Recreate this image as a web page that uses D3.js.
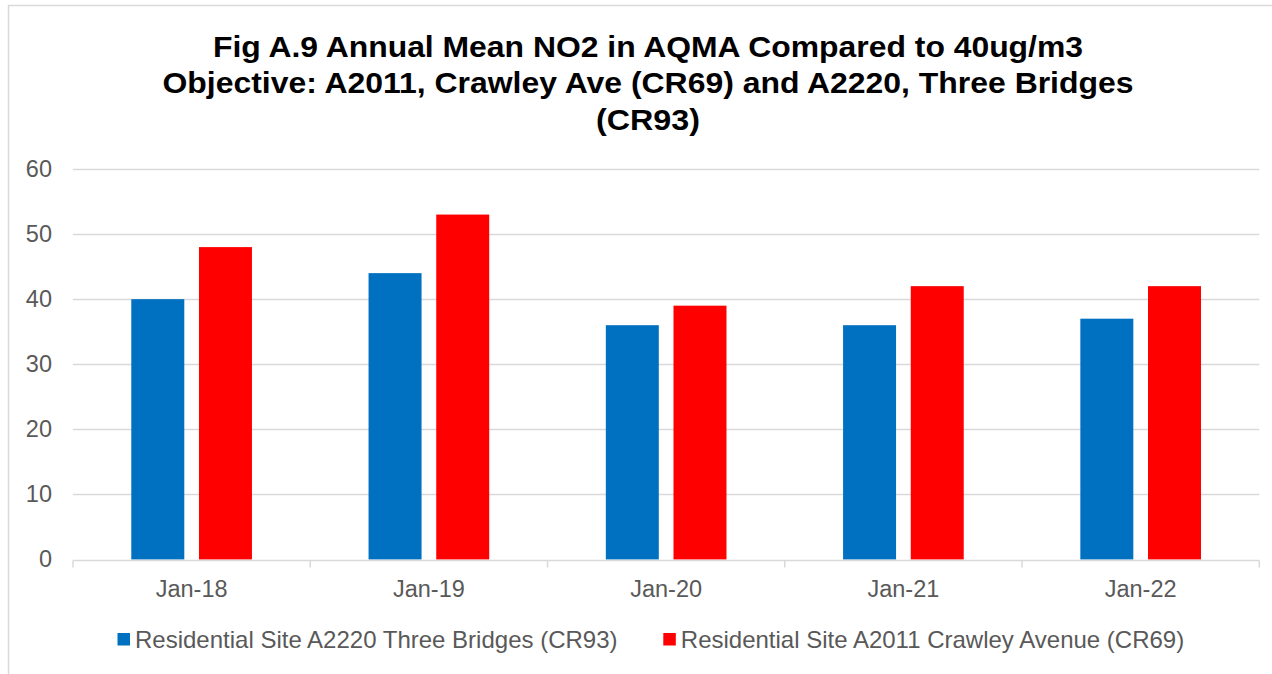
<!DOCTYPE html>
<html>
<head>
<meta charset="utf-8">
<script src="https://cdn.jsdelivr.net/npm/d3@7"></script>
<style>
html,body{margin:0;padding:0;background:#fff;}
svg{display:block;}
</style>
</head>
<body>
<svg id="chart" width="1272" height="674"></svg>
<script>
const categories = ["Jan-18", "Jan-19", "Jan-20", "Jan-21", "Jan-22"];
const seriesNames = ["Residential Site A2220 Three Bridges (CR93)", "Residential Site A2011 Crawley Avenue (CR69)"];
const seriesColors = ["#0070C0", "#FF0000"];
const cr93Values = [40, 44, 36, 36, 37];
const cr69Values = [48, 53, 39, 42, 42];
const yTicks = [0, 10, 20, 30, 40, 50, 60];
const titleLines = ["Fig A.9 Annual Mean NO2 in AQMA Compared to 40ug/m3", "Objective: A2011, Crawley Ave (CR69) and A2220, Three Bridges", "(CR93)"];

(function () {
const seriesValues = [cr93Values, cr69Values];
const data = categories.map((c, i) => ({cat: c, vals: seriesValues.map((s, j) => ({key: j, value: s[i]}))}));

const svg = d3.select("#chart");
const font = "'Liberation Sans', Arial, sans-serif";

// outer border
svg.append("rect").attr("x", 8.5).attr("y", 5.5).attr("width", 1300).attr("height", 700)
  .attr("fill", "none").attr("stroke", "#d9d9d9").attr("stroke-width", 1.5);

// title
const titleWidths = [870, 971, 104];
svg.append("g").selectAll("text").data(titleLines).join("text")
  .attr("x", 648).attr("y", (d, i) => 57 + i * 36.3)
  .attr("text-anchor", "middle").attr("font-family", font).attr("font-weight", "bold")
  .attr("font-size", 30).attr("fill", "#000")
  .attr("textLength", (d, i) => titleWidths[i]).attr("lengthAdjust", "spacingAndGlyphs")
  .text(d => d);

const pLeft = 73, pRight = 1259.3, pTop = 169, pBottom = 559.5;
const x0 = d3.scaleBand().domain(categories).range([pLeft, pRight]).padding(0);
const bw = x0.bandwidth();
const x1 = d3.scaleBand().domain([0, 1]).range([58.3, bw - 58.3]).paddingInner(0.217).paddingOuter(0);
const y = d3.scaleLinear().domain([0, 60]).range([pBottom, pTop]);

// gridlines
svg.append("g").selectAll("line").data(yTicks.filter(t => t > 0)).join("line")
  .attr("x1", pLeft).attr("x2", pRight)
  .attr("y1", d => Math.round(y(d)) + 0.5).attr("y2", d => Math.round(y(d)) + 0.5)
  .attr("stroke", "#d9d9d9").attr("stroke-width", 1.5);

// y labels
svg.append("g").selectAll("text").data(yTicks).join("text")
  .attr("x", 52).attr("y", d => y(d) + 7.8).attr("text-anchor", "end")
  .attr("font-family", font).attr("font-size", 23.5).attr("fill", "#595959").text(d => d);

// bars
const groups = svg.append("g").selectAll("g").data(data).join("g")
  .attr("transform", d => `translate(${x0(d.cat)},0)`);
groups.selectAll("rect").data(d => d.vals).join("rect")
  .attr("x", d => x1(d.key)).attr("width", x1.bandwidth())
  .attr("y", d => y(d.value)).attr("height", d => y(0) - y(d.value))
  .attr("fill", d => seriesColors[d.key]);

// x axis
const ax = svg.append("g").attr("transform", `translate(0,${Math.round(pBottom) + 0.5})`);
ax.append("line").attr("x1", pLeft).attr("x2", pRight).attr("stroke", "#d9d9d9").attr("stroke-width", 1.5);
const bounds = categories.map(c => x0(c)).concat([pRight]);
ax.selectAll("line.tk").data(bounds).join("line").attr("class", "tk")
  .attr("x1", d => d).attr("x2", d => d).attr("y1", 0).attr("y2", 7)
  .attr("stroke", "#d9d9d9").attr("stroke-width", 1.5);
ax.selectAll("text.xl").data(categories).join("text").attr("class", "xl")
  .attr("x", d => x0(d) + bw / 2).attr("y", 36).attr("text-anchor", "middle")
  .attr("font-family", font).attr("font-size", 23.5).attr("fill", "#595959").text(d => d);

// legend
const legend = svg.append("g");
const lx = [117.5, 663.3];
seriesNames.forEach((n, i) => {
  legend.append("rect").attr("x", lx[i]).attr("y", 633).attr("width", 12.5).attr("height", 12.5).attr("fill", seriesColors[i]);
  legend.append("text").attr("x", lx[i] + 17.5).attr("y", 647.5)
    .attr("font-family", font).attr("font-size", 24).attr("fill", "#595959").text(n);
});
})();
</script>
</body>
</html>
